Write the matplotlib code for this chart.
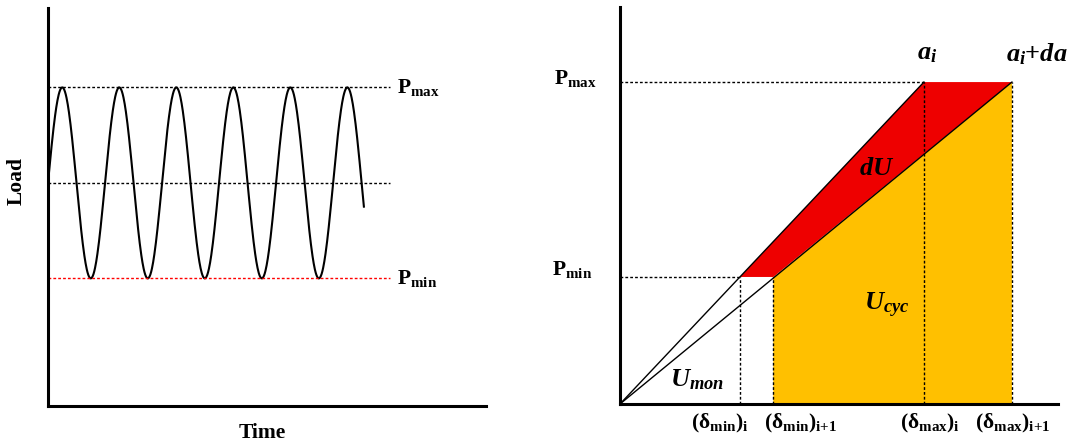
import matplotlib
matplotlib.use("Agg")
import matplotlib.pyplot as plt
import numpy as np

# left panel: cyclic load vs time
load_max = 80.0
load_min = 32.0
period = 1.0
t_end = 5.54
time_lim = 7.68
ref_line_end = 6.0

# right panel: load-displacement
p_max = 81.1
p_min = 32.0
delta_min = [27.4, 35.0]     # (d_min)_i, (d_min)_i+1
delta_max = [69.4, 89.5]     # (d_max)_i, (d_max)_i+1
delta_labels = [r"(δ$_{\mathrm{min}}$)$_{\mathrm{i}}$", r"(δ$_{\mathrm{min}}$)$_{\mathrm{i{+}1}}$",
                r"(δ$_{\mathrm{max}}$)$_{\mathrm{i}}$", r"(δ$_{\mathrm{max}}$)$_{\mathrm{i{+}1}}$"]
delta_label_x = [22.8, 41.1, 70.8, 89.7]

RED = "#EE0000"
GOLD = "#FFC000"

plt.rcParams["font.family"] = ["Liberation Serif", "DejaVu Serif"]
plt.rcParams["font.weight"] = "bold"
plt.rcParams["mathtext.fontset"] = "custom"
plt.rcParams["mathtext.rm"] = "Liberation Serif:bold"
plt.rcParams["mathtext.bf"] = "Liberation Serif:bold"
plt.rcParams["mathtext.it"] = "Liberation Serif:italic:bold"

dots = (0, (2, 1.5))


def style_axes(ax):
    for s in ["top", "right"]:
        ax.spines[s].set_visible(False)
    for s in ["left", "bottom"]:
        ax.spines[s].set_linewidth(2.2)
    ax.set_xticks([])
    ax.set_yticks([])


fig = plt.figure(figsize=(10.76, 4.46), dpi=100)

# ---- left panel
ax1 = fig.add_axes([0.0446, 0.0904, 0.407, 0.892])
style_axes(ax1)
ax1.set_xlim(0, time_lim)
ax1.set_ylim(0, 100)

t = np.linspace(0, t_end, 800)
mean_load = (load_max + load_min) / 2
amp = (load_max - load_min) / 2
ax1.plot(t, mean_load + amp * np.sin(2 * np.pi * t / period), color="black", lw=1.5)
ax1.plot([0, ref_line_end], [load_max, load_max], color="black", lw=1, ls=dots)
ax1.plot([0, ref_line_end], [mean_load, mean_load], color="black", lw=1, ls=dots)
ax1.plot([0, ref_line_end], [load_min, load_min], color="red", lw=1, ls=dots)
ax1.text(ref_line_end + 0.12, load_max, r"P$_{\mathrm{max}}$", fontsize=15.5, va="center", ha="left")
ax1.text(ref_line_end + 0.12, load_min, r"P$_{\mathrm{min}}$", fontsize=15.5, va="center", ha="left")
ax1.text(0.489, -0.069, "Time", transform=ax1.transAxes, fontsize=15.5, ha="center", va="center")
ax1.text(-0.071, 0.565, "Load", transform=ax1.transAxes, fontsize=15.5, ha="center", va="center",
         rotation=90)

# ---- right panel
ax2 = fig.add_axes([0.5762, 0.0942, 0.407, 0.890])
style_axes(ax2)
ax2.set_xlim(0, 100)
ax2.set_ylim(0, 100)

# U_cyc area
ax2.fill([delta_min[1], delta_min[1], delta_max[1], delta_max[1]],
         [0, p_min, p_max, 0], color=GOLD, lw=0)
# dU area
ax2.fill([delta_min[0], delta_max[0], delta_max[1], delta_min[1]],
         [p_min, p_max, p_max, p_min], color=RED, lw=0)

ax2.plot([0, delta_max[0]], [0, p_max], color="black", lw=1)
ax2.plot([0, delta_max[1]], [0, p_max], color="black", lw=1)

ax2.plot([0, delta_max[0]], [p_max, p_max], color="black", lw=1, ls=dots)
ax2.plot([0, delta_min[0]], [p_min, p_min], color="black", lw=1, ls=dots)
for d in delta_min:
    ax2.plot([d, d], [0, p_min], color="black", lw=1, ls=dots)
for d in delta_max:
    ax2.plot([d, d], [0, p_max], color="black", lw=1, ls=dots)

ax2.text(-15, p_max + 1, r"P$_{\mathrm{max}}$", fontsize=15.5, va="center", ha="left")
ax2.text(-15.5, p_min + 2, r"P$_{\mathrm{min}}$", fontsize=15.5, va="center", ha="left")

for x, lab in zip(delta_label_x, delta_labels):
    ax2.text(x, -4.8, lab, fontsize=15.5, ha="center", va="center")

ax2.text(70.1, 88.4, r"$a_i$", fontsize=19, ha="center", va="center")
ax2.text(95.2, 88.0, r"$a_i$+$da$", fontsize=19, ha="center", va="center")
ax2.text(58.7, 59.4, r"$dU$", fontsize=19, ha="center", va="center")
ax2.text(61.0, 24.9, r"$U_{cyc}$", fontsize=19, ha="center", va="center")
ax2.text(17.6, 6.0, r"$U_{mon}$", fontsize=19, ha="center", va="center")

fig.savefig("out.png", dpi=100)
